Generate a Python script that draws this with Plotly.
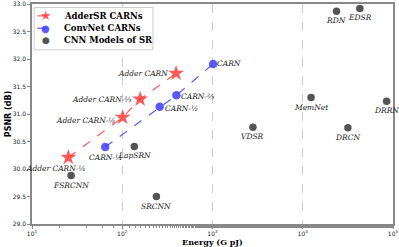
import math
import plotly.graph_objects as go

adder_names = ["Adder CARN-¼", "Adder CARN-½", "Adder CARN-⅔", "Adder CARN"]
adder_energy = [25.3, 101, 158, 395]
adder_psnr = [30.21, 30.94, 31.27, 31.74]

conv_names = ["CARN-¼", "CARN-½", "CARN-⅔", "CARN"]
conv_energy = [64.7, 260, 398, 1016]
conv_psnr = [30.40, 31.13, 31.34, 31.91]

cnn_names = ["FSRCNN", "LapSRN", "SRCNN", "VDSR", "MemNet", "DRCN", "DRRN", "RDN", "EDSR"]
cnn_energy = [27.1, 136, 239, 2806, 12360, 31623, 85000, 23650, 42970]
cnn_psnr = [29.88, 30.41, 29.50, 30.76, 31.30, 30.75, 31.23, 32.87, 32.92]

legend_labels = ["AdderSR CARNs", "ConvNet CARNs", "CNN Models of SR"]

x_tickvals = [10, 100, 1000, 10000, 100000]
x_ticktext = ["10<sup>1</sup>", "10<sup>2</sup>", "10<sup>3</sup>", "10<sup>4</sup>", "10<sup>5</sup>"]
y_tickvals = [29.0, 29.5, 30.0, 30.5, 31.0, 31.5, 32.0, 32.5, 33.0]

RED = "rgba(255,60,60,0.85)"
BLUE = "rgba(60,60,255,0.85)"
GRAY = "#555555"
label_font = dict(family="DejaVu Serif", size=7.5, color="#222", style="italic")

fig = go.Figure()
fig.add_trace(go.Scatter(
    x=adder_energy, y=adder_psnr, mode="lines+markers", name=legend_labels[0],
    line=dict(color=RED, dash="dash", width=1.2),
    marker=dict(symbol="star", size=12, color=RED),
))
fig.add_trace(go.Scatter(
    x=conv_energy, y=conv_psnr, mode="lines+markers", name=legend_labels[1],
    line=dict(color=BLUE, dash="dash", width=1.2),
    marker=dict(symbol="circle", size=8.5, color=BLUE),
))
fig.add_trace(go.Scatter(
    x=cnn_energy, y=cnn_psnr, mode="markers", name=legend_labels[2],
    marker=dict(symbol="circle", size=7.5, color=GRAY),
))

annots = []
adder_pos = [("center", "top", -12, -5), ("right", "middle", -5, -3), ("right", "middle", -6, 0), ("right", "middle", -6, 0)]
for n, x, y, (xa, ya, xs, ys) in zip(adder_names, adder_energy, adder_psnr, adder_pos):
    annots.append(dict(x=math.log10(x), y=y, xref="x", yref="y", text=n, showarrow=False, xanchor=xa, yanchor=ya,
                       xshift=xs, yshift=ys, font=label_font))
conv_pos = [("center", "top", 0, -4), ("left", "middle", 3, -2), ("left", "middle", 3, -1), ("left", "middle", 2, 0)]
for n, x, y, (xa, ya, xs, ys) in zip(conv_names, conv_energy, conv_psnr, conv_pos):
    annots.append(dict(x=math.log10(x), y=y, xref="x", yref="y", text=n, showarrow=False, xanchor=xa, yanchor=ya,
                       xshift=xs, yshift=ys, font=label_font))
for n, x, y in zip(cnn_names, cnn_energy, cnn_psnr):
    annots.append(dict(x=math.log10(x), y=y, xref="x", yref="y", text=n, showarrow=False, xanchor="center", yanchor="top",
                       xshift=0, yshift=-3, font=label_font))

# manual legend (compact, like the reference)
shapes = [dict(type="rect", xref="paper", yref="paper", x0=0.006, x1=0.335, y0=0.792, y1=0.984,
               line=dict(color="#cccccc", width=1), fillcolor="white", layer="above")]
leg_rows = [0.946, 0.890, 0.838]
leg_colors = [RED, BLUE, GRAY]
leg_glyphs = ["★", "●", "●"]
leg_glyph_sizes = [13, 10, 9]
for i, (lab, yy, col, g, gs) in enumerate(zip(legend_labels, leg_rows, leg_colors, leg_glyphs, leg_glyph_sizes)):
    if i < 2:
        shapes.append(dict(type="line", xref="paper", yref="paper", x0=0.015, x1=0.062, y0=yy, y1=yy,
                           line=dict(color=col, width=1.2, dash="dash"), layer="above"))
    annots.append(dict(x=0.038, y=yy, xref="paper", yref="paper", text=g, showarrow=False,
                       xanchor="center", yanchor="middle", font=dict(family="DejaVu Sans", size=gs, color=col)))
    annots.append(dict(x=0.083, y=yy, xref="paper", yref="paper", text=lab, showarrow=False,
                       xanchor="left", yanchor="middle",
                       font=dict(family="DejaVu Serif", size=8.5, color="black", weight="bold")))

fig.update_layout(
    width=399, height=247,
    margin=dict(l=32, r=6, t=4, b=23),
    paper_bgcolor="white", plot_bgcolor="white",
    showlegend=False,
    annotations=annots,
    shapes=shapes,
    xaxis=dict(type="log", range=[1, 5], tickvals=x_tickvals, ticktext=x_ticktext, automargin=False,
               showgrid=True, gridcolor="#cccccc", griddash="dash", gridwidth=1,
               showline=True, linecolor="#888888", linewidth=1.5, mirror=True,
               ticks="outside", ticklen=3, tickcolor="#888888",
               minor=dict(ticks="outside", ticklen=2, tickcolor="#888888", showgrid=False),
               tickfont=dict(family="DejaVu Sans", size=6, color="#222"),
               title=dict(text="Energy (G pJ)", standoff=0,
                          font=dict(family="DejaVu Serif", size=8, color="black", weight="bold")),
               zeroline=False),
    yaxis=dict(range=[29.0, 33.0], tickvals=y_tickvals, tickformat=".1f", automargin=False,
               showgrid=False,
               showline=True, linecolor="#888888", linewidth=1.5, mirror=True,
               ticks="outside", ticklen=3, tickcolor="#888888",
               tickfont=dict(family="DejaVu Sans", size=6, color="#222"),
               title=dict(text="PSNR (dB)", standoff=0,
                          font=dict(family="DejaVu Sans", size=8, color="black", weight="bold")),
               zeroline=False),
)

fig.write_html("out.html", config={"displayModeBar": False},
               post_script="document.body.style.margin='0';")
